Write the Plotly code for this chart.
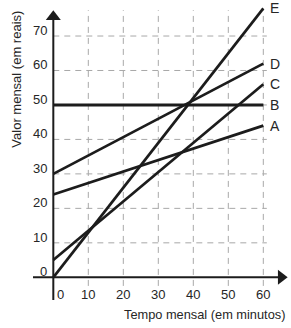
import plotly.graph_objects as go

# ---- data ----
minutes = [0, 60]
series_names = ["A", "B", "C", "D", "E"]
valor_A = [24, 44]
valor_B = [50, 50]
valor_C = [5, 56]
valor_D = [30, 62]
valor_E = [0, 78]
x_ticks = [0, 10, 20, 30, 40, 50, 60]
y_ticks = [0, 10, 20, 30, 40, 50, 60, 70]
x_title = "Tempo mensal (em minutos)"
y_title = "Valor mensal (em reais)"

series = dict(zip(series_names, [valor_A, valor_B, valor_C, valor_D, valor_E]))

FONT = "Liberation Sans, Arial, sans-serif"
INK = "#1c1c1c"
TXT = "#262626"
GRID = "#a8a8a8"

fig = go.Figure()

shapes = []
# dashed grid
for xv in x_ticks[1:]:
    shapes.append(dict(type="line", xref="x", yref="y", x0=xv, x1=xv, y0=-2.5, y1=77.5,
                       line=dict(color=GRID, width=1, dash="6px,5px"), layer="below"))
for yv in y_ticks[1:]:
    shapes.append(dict(type="line", xref="x", yref="y", x0=0, x1=61, y0=yv, y1=yv,
                       line=dict(color=GRID, width=1, dash="6px,5px"), layer="below"))
# axes
shapes.append(dict(type="line", xref="x", yref="y", x0=0, x1=0, y0=-6.6, y1=76,
                   line=dict(color=INK, width=2)))
shapes.append(dict(type="line", xref="x", yref="y", x0=-5.8, x1=64.5, y0=0, y1=0,
                   line=dict(color=INK, width=2)))

# arrow heads
fig.add_trace(go.Scatter(x=[0], y=[75.6], mode="markers",
                         marker=dict(symbol="triangle-up", size=13, color=INK),
                         hoverinfo="skip", showlegend=False, cliponaxis=False))
fig.add_trace(go.Scatter(x=[65.1], y=[0], mode="markers",
                         marker=dict(symbol="triangle-right", size=13, color=INK),
                         hoverinfo="skip", showlegend=False, cliponaxis=False))

# series lines
for name, vals in series.items():
    fig.add_trace(go.Scatter(x=minutes, y=vals, mode="lines",
                             line=dict(color=INK, width=2.7 if name != "B" else 3),
                             name=name, showlegend=False, hoverinfo="skip",
                             cliponaxis=False))

annotations = []
# series labels
for name, vals in series.items():
    annotations.append(dict(x=63.2, y=vals[-1], xref="x", yref="y", text=name,
                            showarrow=False, xanchor="center", yanchor="middle",
                            font=dict(family=FONT, size=14, color=TXT)))
# tick labels
for xv in x_ticks:
    annotations.append(dict(x=xv if xv else 0.35, y=-5.1, xref="x", yref="y", text=str(xv),
                            showarrow=False, xanchor="center" if xv else "left",
                            yanchor="middle",
                            font=dict(family=FONT, size=13, color=TXT)))
for yv in y_ticks:
    annotations.append(dict(x=-1.3, y=yv + 1.6, xref="x", yref="y", text=str(yv),
                            showarrow=False, xanchor="right", yanchor="middle",
                            font=dict(family=FONT, size=13, color=TXT)))
# axis titles
annotations.append(dict(x=43.2, y=-10.9, xref="x", yref="y", text=x_title,
                        showarrow=False, xanchor="center", yanchor="middle",
                        font=dict(family=FONT, size=12.8, color=TXT)))
annotations.append(dict(x=-10.5, y=57.5, xref="x", yref="y", text=y_title,
                        showarrow=False, xanchor="center", yanchor="middle", textangle=-90,
                        font=dict(family=FONT, size=13, color=TXT)))

fig.update_layout(
    width=291, height=328,
    margin=dict(l=0, r=0, t=0, b=0),
    paper_bgcolor="white", plot_bgcolor="white",
    shapes=shapes, annotations=annotations,
    xaxis=dict(range=[-15.23, 67.91], visible=False, fixedrange=True),
    yaxis=dict(range=[-14.71, 80.45], visible=False, fixedrange=True),
    showlegend=False,
)

fig.write_html("out.html")
